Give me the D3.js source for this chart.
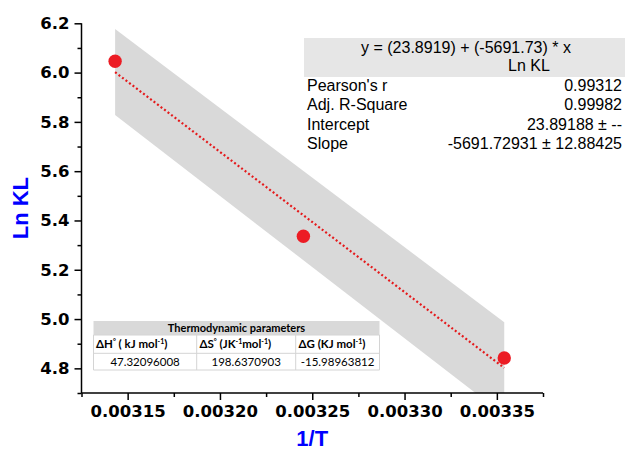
<!DOCTYPE html>
<html>
<head>
<meta charset="utf-8">
<script src="https://cdn.jsdelivr.net/npm/d3@7"></script>
<style>
  body { margin: 0; background: #fff; }
  svg { display: block; }
</style>
</head>
<body>
<script>
// measured points (1/T, Ln KL)
var invT = [0.0031432, 0.0032452, 0.0033540];
var lnKL = [6.046, 5.336, 4.842];

// confidence band, read at the two end x values
var bandX = [0.0031432, 0.0033540];
var bandUpper = [6.177, 4.987];
var bandLower = [5.828, 4.610];

// linear fit shown in the stats box
var fitIntercept = 23.8919;
var fitSlope = -5691.73;

var xTicks = [0.00315, 0.00320, 0.00325, 0.00330, 0.00335];
var yTicks = [4.8, 5.0, 5.2, 5.4, 5.6, 5.8, 6.0, 6.2];

var statsLabels = ["Pearson's r", "Adj. R-Square", "Intercept", "Slope"];
var statsValues = ["0.99312", "0.99982", "23.89188 \u00b1 --", "-5691.72931 \u00b1 12.88425"];

var thermoValues = ["47.32096008", "198.6370903", "-15.98963812"];

var W = 625, H = 457;
var svg = d3.select("body").append("svg")
    .attr("width", W)
    .attr("height", H);

var x = d3.scaleLinear().domain([0.003125, 0.003375]).range([81.5, 543]);
var y = d3.scaleLinear().domain([4.7, 6.2]).range([393, 23.3]);

svg.append("clipPath").attr("id", "plotclip")
  .append("rect")
    .attr("x", x.range()[0]).attr("y", y.range()[1])
    .attr("width", x.range()[1] - x.range()[0])
    .attr("height", y.range()[0] - y.range()[1]);

var plot = svg.append("g").attr("clip-path", "url(#plotclip)");

// band polygon
var bandPts = [];
bandX.forEach(function(v, i) { bandPts.push([x(v), y(bandUpper[i])]); });
for (var i = bandX.length - 1; i >= 0; i--) bandPts.push([x(bandX[i]), y(bandLower[i])]);
plot.append("polygon")
    .attr("points", bandPts.map(function(p) { return p.join(","); }).join(" "))
    .attr("fill", "#d9d9d9");

// fit line
var xa = d3.min(invT), xb = d3.max(invT);
plot.append("line")
    .attr("x1", x(xa)).attr("y1", y(fitIntercept + fitSlope * xa))
    .attr("x2", x(xb)).attr("y2", y(fitIntercept + fitSlope * xb))
    .attr("stroke", "#e41a1c")
    .attr("stroke-width", 2.2)
    .attr("stroke-dasharray", "2,2.4");

// points
svg.selectAll(".pt")
  .data(invT)
  .enter()
  .append("circle")
    .attr("class", "pt")
    .attr("cx", function(d) { return x(d); })
    .attr("cy", function(d, i) { return y(lnKL[i]); })
    .attr("r", 6.7)
    .attr("fill", "#ec1c24");

// axes
var tickFont = "DejaVu Sans, sans-serif";

var xAxis = svg.append("g")
    .attr("transform", "translate(0," + y.range()[0] + ")")
    .call(d3.axisBottom(x).tickValues(xTicks).tickSize(7).tickPadding(5)
      .tickFormat(d3.format(".5f")));
var xMinor = svg.append("g")
    .attr("transform", "translate(0," + y.range()[0] + ")")
    .call(d3.axisBottom(x).tickValues([0.003125, 0.003175, 0.003225, 0.003275, 0.003325, 0.003375])
      .tickSize(4).tickFormat(""));
xMinor.select(".domain").remove();

var yAxis = svg.append("g")
    .attr("transform", "translate(" + x.range()[0] + ",0)")
    .call(d3.axisLeft(y).tickValues(yTicks).tickSize(7).tickPadding(5)
      .tickFormat(d3.format(".1f")));
var yMinor = svg.append("g")
    .attr("transform", "translate(" + x.range()[0] + ",0)")
    .call(d3.axisLeft(y).tickValues([4.7, 4.9, 5.1, 5.3, 5.5, 5.7, 5.9, 6.1])
      .tickSize(4).tickFormat(""));
yMinor.select(".domain").remove();

svg.selectAll(".domain, .tick line")
    .attr("stroke", "#000")
    .attr("stroke-width", 1.5);
xAxis.selectAll(".domain").attr("d", "M" + x.range()[0] + ",0H" + x.range()[1]);
yAxis.selectAll(".domain").attr("d", "M0," + y.range()[0] + "V" + y.range()[1]);

svg.selectAll(".tick text")
    .attr("font-family", tickFont)
    .attr("font-weight", "bold")
    .attr("font-size", 16.5)
    .attr("fill", "#000");

// axis titles
svg.append("text")
    .attr("transform", "translate(28," + ((y.range()[0] + y.range()[1]) / 2) + ") rotate(-90)")
    .attr("text-anchor", "middle")
    .attr("font-family", "Liberation Sans, Arial, sans-serif")
    .attr("font-weight", "bold")
    .attr("font-size", 22)
    .attr("fill", "#0000ff")
    .text("Ln KL");

svg.append("text")
    .attr("x", (x.range()[0] + x.range()[1]) / 2)
    .attr("y", 446)
    .attr("text-anchor", "middle")
    .attr("font-family", "Liberation Sans, Arial, sans-serif")
    .attr("font-weight", "bold")
    .attr("font-size", 22)
    .attr("fill", "#0000ff")
    .text("1/T");

// stats box (top right)
var stats = svg.append("g")
    .attr("font-family", "Liberation Sans, Arial, sans-serif")
    .attr("font-size", 16)
    .attr("fill", "#000");
stats.append("rect")
    .attr("x", 304).attr("y", 38).attr("width", 321).attr("height", 39)
    .attr("fill", "#e6e6e6");
stats.append("text")
    .attr("x", 466).attr("y", 53).attr("text-anchor", "middle")
    .text("y = (" + fitIntercept + ") + (" + fitSlope + ") * x");
stats.append("text")
    .attr("x", 529).attr("y", 71).attr("text-anchor", "middle")
    .text("Ln KL");
statsLabels.forEach(function(lab, i) {
  var by = 91 + i * 19.4;
  stats.append("text").attr("x", 307).attr("y", by).text(lab);
  stats.append("text").attr("x", 622).attr("y", by).attr("text-anchor", "end").text(statsValues[i]);
});

// thermodynamic parameters table
var tb = svg.append("g")
    .attr("font-family", "Lato, Open Sans, sans-serif")
    .attr("font-size", 11.5)
    .attr("fill", "#000");
var tx0 = 93.5, tx1 = 379.5, cols = [93.5, 196.7, 295.7, 379.5];
var rows = [321, 335, 353.3, 370];
tb.append("rect").attr("x", tx0).attr("y", rows[0]).attr("width", tx1 - tx0).attr("height", rows[3] - rows[0])
    .attr("fill", "#fff");
tb.append("rect").attr("x", tx0).attr("y", rows[0]).attr("width", tx1 - tx0).attr("height", rows[1] - rows[0])
    .attr("fill", "#d9d9d9");
[rows[1], rows[2], rows[3]].forEach(function(r) {
  tb.append("line").attr("x1", tx0).attr("x2", tx1).attr("y1", r).attr("y2", r)
    .attr("stroke", "#d4d4d4").attr("stroke-width", 1);
});
cols.forEach(function(c) {
  tb.append("line").attr("x1", c).attr("x2", c).attr("y1", rows[1]).attr("y2", rows[3])
    .attr("stroke", "#d4d4d4").attr("stroke-width", 1);
});
tb.append("text")
    .attr("x", (tx0 + tx1) / 2).attr("y", 332).attr("text-anchor", "middle")
    .attr("font-weight", "bold")
    .attr("font-size", 11)
    .text("Thermodynamic parameters");

function supText(el, parts) {
  parts.forEach(function(p) {
    var t = el.append("tspan").text(p[0]);
    if (p[1]) t.attr("baseline-shift", "super").attr("font-size", 7);
  });
}
var h1 = tb.append("text").attr("x", 96).attr("y", 347.5).attr("font-weight", "bold");
supText(h1, [["\u0394H"], ["\u00b0", 1], [" (   kJ mol"], ["-1", 1], [")"]]);
var h2 = tb.append("text").attr("x", 199.5).attr("y", 347.5).attr("font-weight", "bold");
supText(h2, [["\u0394S"], ["\u00b0", 1], [" (JK"], ["-1", 1], ["mol"], ["-1", 1], [")"]]);
var h3 = tb.append("text").attr("x", 298.5).attr("y", 347.5).attr("font-weight", "bold");
supText(h3, [["\u0394G (KJ mol"], ["-1", 1], [")"]]);

thermoValues.forEach(function(v, i) {
  tb.append("text")
    .attr("x", (cols[i] + cols[i + 1]) / 2).attr("y", 365.5)
    .attr("text-anchor", "middle")
    .text(v);
});
</script>
</body>
</html>
